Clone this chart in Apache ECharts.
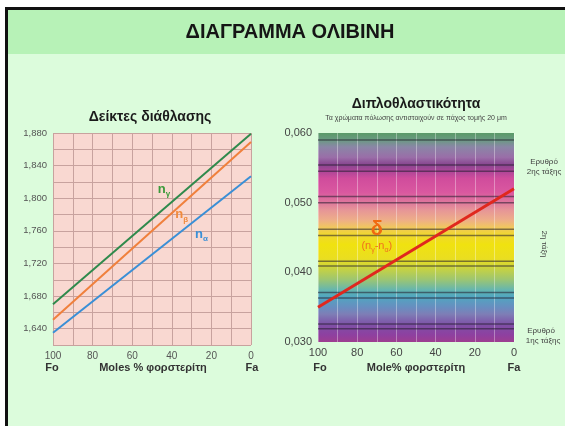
<!DOCTYPE html>
<html>
<head>
<meta charset="utf-8">
<script src="https://cdn.jsdelivr.net/npm/echarts@6/dist/echarts.min.js"></script>
<style>
  html, body { margin: 0; padding: 0; background: #fff; }
  #chart { width: 565px; height: 426px; }
</style>
</head>
<body>
<div id="chart"></div>
<script>
// mole % forsterite at the two ends of each line (Fo100 -> Fa100)
const fo = [100, 0]
// refractive indices
const nGamma = [1.670, 1.879]
const nBeta = [1.651, 1.869]
const nAlpha = [1.635, 1.827]
// birefringence δ = nγ - nα
const delta = [0.035, 0.052]

// where the line labels sit, [mole % Fo, value]
const nGammaLabelAt = [44, 1.810]
const nBetaLabelAt = [35, 1.779]
const nAlphaLabelAt = [25, 1.755]
const deltaLabelAt = [70, 0.0462]
const deltaSubLabelAt = [70, 0.0437]

// dark interference lines on the colour chart
const bandLines = [0.0590, 0.0554, 0.0545, 0.0509, 0.0500, 0.0462, 0.0453,
  0.0416, 0.0409, 0.0371, 0.0363, 0.0326, 0.0319]

// interference colours by birefringence (20 μm section)
const colourStops = [0.0600, 0.0590, 0.0580, 0.0565, 0.0555, 0.0545, 0.0535, 0.0515, 0.0500,
  0.0490, 0.0475, 0.0465, 0.0455, 0.0440, 0.0420, 0.0405, 0.0390, 0.0375, 0.0365, 0.0350,
  0.0340, 0.0325, 0.0310, 0.0300]
const colourValues = ['#5a9a68', '#6a9a82', '#8a86a6', '#9a6ea8', '#884690', '#ae4698',
  '#d04c9c', '#da58a0', '#de789c', '#e69498', '#eeae88', '#f0c660', '#f0d632', '#f0e210',
  '#eade20', '#c6d242', '#9ec670', '#66b6ae', '#50a6c0', '#688ec0', '#7e7eb6', '#7e50a6',
  '#8e40a0', '#9e3e90']

const nMin = 1.62
const nMax = 1.88
const dMin = 0.030
const dMax = 0.060

const FONT = 'Liberation Sans, Arial, sans-serif'
const chart = echarts.init(document.getElementById('chart'))

function greekNum(v) {
  return v.toFixed(3).replace('.', ',')
}

const gradient = new echarts.graphic.LinearGradient(0, 0, 0, 1,
  colourStops.map((v, i) => ({ offset: (dMax - v) / (dMax - dMin), color: colourValues[i] })))

const subRich = function (color) {
  return {
    n: { fontSize: 13, fontWeight: 'bold', color: color, lineHeight: 14, verticalAlign: 'top', fontFamily: FONT },
    s: { fontSize: 8, fontWeight: 'bold', color: color, lineHeight: 9, padding: [7, 0, 0, 0], verticalAlign: 'top', fontFamily: FONT },
  }
}

function lineLabel(coord, sub, color) {
  return {
    coord: coord,
    symbol: 'circle',
    symbolSize: 0,
    label: {
      show: true,
      position: 'inside',
      formatter: '{n|n}{s|' + sub + '}',
      rich: subRich(color),
    },
  }
}

function txt(x, y, text, size, opts) {
  return Object.assign({
    type: 'text',
    x: x,
    y: y,
    z: 100,
    style: Object.assign({
      text: text,
      fontSize: size,
      fontFamily: FONT,
      fill: '#333',
      align: 'center',
      verticalAlign: 'middle',
    }, (opts && opts.style) || {}),
  }, (opts && opts.el) || {})
}

// one thin dark line across the colour chart per band value
const bandSeries = bandLines.map((v) => ({
  type: 'line', xAxisIndex: 1, yAxisIndex: 1, symbol: 'none', z: 1, silent: true,
  lineStyle: { color: 'rgba(35,30,45,0.55)', width: 1.5 },
  data: fo.map((x) => [x, v]),
}))

const option = {
  animation: false,
  textStyle: { fontFamily: FONT },
  graphic: [
    { type: 'rect', z: -10, shape: { x: 0, y: 0, width: 565, height: 426 }, style: { fill: '#ffffff' } },
    { type: 'rect', z: -10, shape: { x: 5, y: 8, width: 560, height: 418 }, style: { fill: '#dcfcdc' } },
    { type: 'rect', z: -9, shape: { x: 8, y: 10, width: 557, height: 44 }, style: { fill: '#b7f2b7' } },
    { type: 'rect', z: -8, shape: { x: 5, y: 7, width: 560, height: 3 }, style: { fill: '#111' } },
    { type: 'rect', z: -8, shape: { x: 5, y: 7, width: 3, height: 419 }, style: { fill: '#111' } },
    txt(290, 32, 'ΔΙΑΓΡΑΜΜΑ ΟΛΙΒΙΝΗ', 20, { style: { fontWeight: 'bold', fill: '#151515' } }),
    txt(150, 117, 'Δείκτες διάθλασης', 14, { style: { fontWeight: 'bold', fill: '#1a1a1a' } }),
    txt(416, 104, 'Διπλοθλαστικότητα', 14, { style: { fontWeight: 'bold', fill: '#1a1a1a' } }),
    txt(416, 118, 'Τα χρώματα πόλωσης αντιστοιχούν σε πάχος τομής 20 μm', 7, { style: { fill: '#444' } }),
    txt(52, 368, 'Fo', 11, { style: { fontWeight: 'bold' } }),
    txt(153, 368, 'Moles % φορστερίτη', 11, { style: { fontWeight: 'bold' } }),
    txt(252, 368, 'Fa', 11, { style: { fontWeight: 'bold' } }),
    txt(320, 368, 'Fo', 11, { style: { fontWeight: 'bold' } }),
    txt(416, 368, 'Mole% φορστερίτη', 11, { style: { fontWeight: 'bold' } }),
    txt(514, 368, 'Fa', 11, { style: { fontWeight: 'bold' } }),
    txt(544, 162, 'Ερυθρό', 8, { style: { fill: '#444' } }),
    txt(544, 172, '2ης τάξης', 8, { style: { fill: '#444' } }),
    txt(541, 331, 'Ερυθρό', 8, { style: { fill: '#444' } }),
    txt(543, 341, '1ης τάξης', 8, { style: { fill: '#444' } }),
    txt(544, 244, '2η τάξη', 8, { style: { fill: '#444' }, el: { rotation: -Math.PI / 2 } }),
  ],
  grid: [
    { left: 53, right: 314, top: 133, bottom: 81, show: true, backgroundColor: '#f9d8d1', borderWidth: 0 },
    { left: 318, right: 51, top: 133, bottom: 84, show: true, backgroundColor: gradient, borderWidth: 0 },
  ],
  xAxis: [
    {
      gridIndex: 0, type: 'value', min: 0, max: 100, interval: 10, inverse: true,
      axisLine: { show: false }, axisTick: { show: false },
      splitLine: { show: true, lineStyle: { color: '#c8a29e', width: 1 } },
      axisLabel: { color: '#555', fontSize: 10, margin: 6, formatter: (v) => (v % 20 === 0 ? String(v) : '') },
    },
    {
      gridIndex: 1, type: 'value', min: 0, max: 100, interval: 10, inverse: true,
      axisLine: { show: false }, axisTick: { show: false },
      splitLine: { show: true, lineStyle: { color: 'rgba(255,255,255,0.35)', width: 1 } },
      axisLabel: { color: '#444', fontSize: 11, margin: 5, formatter: (v) => (v % 20 === 0 ? String(v) : '') },
    },
  ],
  yAxis: [
    {
      gridIndex: 0, type: 'value', min: nMin, max: nMax, interval: 0.02,
      axisLine: { show: false }, axisTick: { show: false },
      splitLine: { show: true, lineStyle: { color: '#c8a29e', width: 1 } },
      axisLabel: {
        color: '#555', fontSize: 9.5, margin: 6,
        formatter: (v) => (Math.round(v * 100) % 4 === 0 ? greekNum(v) : ''),
      },
    },
    {
      gridIndex: 1, type: 'value', min: dMin, max: dMax, interval: 0.01,
      axisLine: { show: false }, axisTick: { show: false }, splitLine: { show: false },
      axisLabel: { color: '#444', fontSize: 11, margin: 6, formatter: (v) => greekNum(v) },
    },
  ],
  series: [
    {
      name: 'nγ', type: 'line', xAxisIndex: 0, yAxisIndex: 0, symbol: 'none',
      lineStyle: { color: '#2f8a4c', width: 2 },
      data: fo.map((x, i) => [x, nGamma[i]]),
      markPoint: { data: [lineLabel(nGammaLabelAt, 'γ', '#3a9a3a')] },
    },
    {
      name: 'nβ', type: 'line', xAxisIndex: 0, yAxisIndex: 0, symbol: 'none',
      lineStyle: { color: '#f0803c', width: 2 },
      data: fo.map((x, i) => [x, nBeta[i]]),
      markPoint: { data: [lineLabel(nBetaLabelAt, 'β', '#f08a3c')] },
    },
    {
      name: 'nα', type: 'line', xAxisIndex: 0, yAxisIndex: 0, symbol: 'none',
      lineStyle: { color: '#3a8fd6', width: 2 },
      data: fo.map((x, i) => [x, nAlpha[i]]),
      markPoint: { data: [lineLabel(nAlphaLabelAt, 'α', '#3a8fd6')] },
    },
    ...bandSeries,
    {
      name: 'δ', type: 'line', xAxisIndex: 1, yAxisIndex: 1, symbol: 'none', z: 5,
      lineStyle: { color: '#e0281e', width: 3 },
      data: fo.map((x, i) => [x, delta[i]]),
      markPoint: {
        data: [
          {
            coord: deltaLabelAt, symbol: 'circle', symbolSize: 0,
            label: { show: true, position: 'inside', formatter: 'δ', fontSize: 20, fontWeight: 'bold', color: '#f06a10' },
          },
          {
            coord: deltaSubLabelAt, symbol: 'circle', symbolSize: 0,
            label: {
              show: true, position: 'inside',
              formatter: '{n|(n}{s|γ}{n|-n}{s|α}{n|)}',
              rich: {
                n: { fontSize: 11, color: '#f07020', lineHeight: 12, verticalAlign: 'top', fontFamily: FONT },
                s: { fontSize: 7, color: '#f07020', lineHeight: 8, padding: [6, 0, 0, 0], verticalAlign: 'top', fontFamily: FONT },
              },
            },
          },
        ],
      },
    },
  ],
}

chart.setOption(option)
</script>
</body>
</html>
